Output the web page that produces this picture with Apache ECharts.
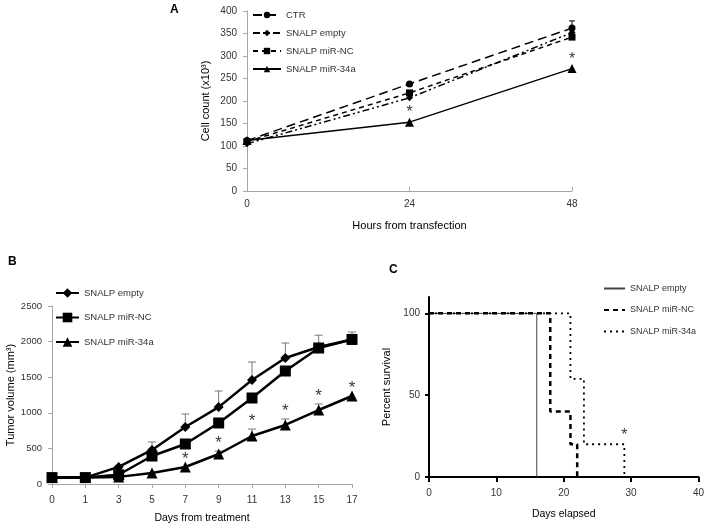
<!DOCTYPE html>
<html>
<head>
<meta charset="utf-8">
<script src="https://cdn.jsdelivr.net/npm/echarts@6/dist/echarts.min.js"></script>
<style>
html,body{margin:0;padding:0;background:#fff;}
#c{width:707px;height:526px;}
</style>
</head>
<body>
<div id="c"></div>
<script>
// ---------- Panel A data ----------
const hoursA = [0, 24, 48];
const ctrA = [112, 238, 362];
const emptyA = [105, 207, 352];
const ncA = [110, 218, 342];
const mir34aA = [112, 153, 272];
const ctrErrA = [0, 0, 16];
const sigA = [0, 1, 1];

// ---------- Panel B data ----------
const daysB = ['0', '1', '3', '5', '7', '9', '11', '13', '15', '17'];
const emptyB = [90, 90, 240, 478, 800, 1080, 1460, 1770, 1925, 2030];
const ncB = [90, 90, 130, 393, 562, 857, 1208, 1587, 1910, 2030];
const mir34aB = [90, 90, 100, 154, 239, 421, 674, 829, 1039, 1236];
const emptyErrB = [0, 0, 0, 112, 183, 226, 253, 210, 165, 105];
const mir34aErrB = [0, 0, 0, 0, 0, 42, 98, 84, 85, 0];
const sigB = [0, 0, 0, 0, 1, 1, 1, 1, 1, 1];

// ---------- Panel C data (Kaplan-Meier events: [day, percent]) ----------
const emptyC = [[0, 100], [16, 0]];
const ncC = [[0, 100], [18, 40], [21, 20], [22, 0]];
const mir34aC = [[0, 100], [21, 60], [23, 20], [29, 0]];
const sigC = [[29, 20]];
const yTicksC = [0, 50, 100];

const FONT = 'Liberation Sans, Arial, sans-serif';
const chart = echarts.init(document.getElementById('c'), null, {renderer: 'canvas'});

function errBars(xs, vals, errs, xi, yi, color, w, capW) {
  const data = [];
  vals.forEach((v, i) => { if (errs[i] > 0) data.push([xs[i], v, v + errs[i]]); });
  return {
    type: 'custom', xAxisIndex: xi, yAxisIndex: yi, silent: true, z: 1,
    data: data,
    renderItem: function (params, api) {
      const p1 = api.coord([api.value(0), api.value(1)]);
      const p2 = api.coord([api.value(0), api.value(2)]);
      return {
        type: 'group',
        children: [
          {type: 'line', shape: {x1: p1[0], y1: p1[1], x2: p2[0], y2: p2[1]}, style: {stroke: color, lineWidth: w}},
          {type: 'line', shape: {x1: p2[0] - capW, y1: p2[1], x2: p2[0] + capW, y2: p2[1]}, style: {stroke: color, lineWidth: w}}
        ]
      };
    }
  };
}

function stars(points, xi, yi, size, dist) {
  return {
    type: 'scatter', xAxisIndex: xi, yAxisIndex: yi, symbol: 'circle', symbolSize: 1, silent: true, z: 5,
    itemStyle: {color: 'rgba(0,0,0,0)'},
    data: points,
    label: {show: true, position: 'top', distance: dist, formatter: '*', fontSize: size, color: '#000', fontFamily: FONT}
  };
}

const starsA = hoursA.map((h, i) => sigA[i] ? [h, mir34aA[i]] : null).filter(Boolean);
const starsB = daysB.map((d, i) => sigB[i] ? [i, mir34aB[i] + mir34aErrB[i]] : null).filter(Boolean);

const labelFmt = n => n.split('|')[0];
const plain = v => String(v);
const axisGray = '#a6a6a6';
const txt = '#333';

const option = {
  backgroundColor: '#fff',
  animation: false,
  textStyle: {fontFamily: FONT},
  title: [
    {text: 'A', left: 170, top: 4, padding: 0, textStyle: {fontSize: 12, fontWeight: 'bold', color: '#000', fontFamily: FONT}},
    {text: 'B', left: 8, top: 256, padding: 0, textStyle: {fontSize: 12, fontWeight: 'bold', color: '#000', fontFamily: FONT}},
    {text: 'C', left: 389, top: 264, padding: 0, textStyle: {fontSize: 12, fontWeight: 'bold', color: '#000', fontFamily: FONT}}
  ],
  grid: [
    {left: 247, top: 11, width: 325, height: 180},
    {left: 52, top: 306, width: 300, height: 178},
    {left: 429, top: 297, width: 271, height: 180}
  ],
  legend: [
    {
      data: ['CTR', 'SNALP empty', 'SNALP miR-NC', 'SNALP miR-34a'],
      orient: 'vertical', left: 252, top: 10, padding: 0, itemWidth: 28, itemHeight: 8, itemGap: 8,
      textStyle: {fontSize: 9.5, color: txt, fontFamily: FONT}, formatter: labelFmt
    },
    {
      data: ['SNALP empty|B', 'SNALP miR-NC|B', 'SNALP miR-34a|B'],
      orient: 'vertical', left: 55, top: 288, padding: 0, itemWidth: 23, itemHeight: 12, itemGap: 14.5,
      textStyle: {fontSize: 9.5, color: txt, fontFamily: FONT}, formatter: labelFmt
    },
    {
      data: ['SNALP empty|C', 'SNALP miR-NC|C', 'SNALP miR-34a|C'],
      orient: 'vertical', left: 603, top: 284, padding: 0, itemWidth: 21, itemHeight: 8, itemGap: 12.5,
      itemStyle: {opacity: 0},
      textStyle: {fontSize: 9, color: txt, fontFamily: FONT}, formatter: labelFmt
    }
  ],
  xAxis: [
    {
      gridIndex: 0, type: 'value', min: 0, max: 48, interval: 24,
      name: 'Hours from transfection', nameLocation: 'middle', nameGap: 29,
      nameTextStyle: {fontSize: 11, color: '#000', fontFamily: FONT},
      axisLine: {lineStyle: {color: axisGray, width: 1}},
      axisTick: {show: true, inside: true, length: 4, lineStyle: {color: axisGray}},
      axisLabel: {fontSize: 10, color: txt, margin: 8, formatter: plain},
      splitLine: {show: false}
    },
    {
      gridIndex: 1, type: 'category', data: daysB, boundaryGap: false,
      name: 'Days from treatment', nameLocation: 'middle', nameGap: 29,
      nameTextStyle: {fontSize: 10.5, color: '#000', fontFamily: FONT},
      axisLine: {lineStyle: {color: axisGray, width: 1}},
      axisTick: {show: true, length: 4, lineStyle: {color: axisGray}},
      axisLabel: {fontSize: 10, color: txt, margin: 11, interval: 0},
      splitLine: {show: false}
    },
    {
      gridIndex: 2, type: 'value', min: 0, max: 40, interval: 10,
      name: 'Days elapsed', nameLocation: 'middle', nameGap: 32,
      nameTextStyle: {fontSize: 10.5, color: '#000', fontFamily: FONT},
      axisLine: {lineStyle: {color: '#000', width: 2}},
      axisTick: {show: true, length: 5, lineStyle: {color: '#000', width: 2}},
      axisLabel: {fontSize: 10, color: txt, margin: 11, formatter: plain},
      splitLine: {show: false}
    }
  ],
  yAxis: [
    {
      gridIndex: 0, type: 'value', min: 0, max: 400, interval: 50,
      name: 'Cell count (x10³)', nameLocation: 'middle', nameGap: 36,
      nameTextStyle: {fontSize: 11, color: '#000', fontFamily: FONT},
      axisLine: {show: true, lineStyle: {color: axisGray, width: 1}},
      axisTick: {show: true, length: 4, lineStyle: {color: axisGray}},
      axisLabel: {fontSize: 10, color: txt, margin: 10, formatter: plain},
      splitLine: {show: false}
    },
    {
      gridIndex: 1, type: 'value', min: 0, max: 2500, interval: 500,
      name: 'Tumor volume (mm³)', nameLocation: 'middle', nameGap: 35,
      nameTextStyle: {fontSize: 11, color: '#000', fontFamily: FONT},
      axisLine: {show: true, lineStyle: {color: axisGray, width: 1}},
      axisTick: {show: true, length: 4, lineStyle: {color: axisGray}},
      axisLabel: {fontSize: 9.5, color: txt, margin: 10, formatter: plain},
      splitLine: {show: false}
    },
    {
      gridIndex: 2, type: 'value', min: 0, max: 110,
      name: 'Percent survival', nameLocation: 'middle', nameGap: 37,
      nameTextStyle: {fontSize: 11, color: '#000', fontFamily: FONT},
      axisLine: {show: true, lineStyle: {color: '#000', width: 2}},
      axisTick: {show: true, length: 4, lineStyle: {color: '#000', width: 2}, customValues: yTicksC},
      axisLabel: {fontSize: 10, color: txt, margin: 9, customValues: yTicksC, formatter: plain},
      splitLine: {show: false}
    }
  ],
  series: [
    // ----- Panel A -----
    errBars(hoursA, ctrA, ctrErrA, 0, 0, '#000', 1, 3),
    {
      name: 'CTR', type: 'line', xAxisIndex: 0, yAxisIndex: 0, data: hoursA.map((h, i) => [h, ctrA[i]]),
      symbol: 'circle', symbolSize: 7, lineStyle: {color: '#000', width: 1.5, type: [9, 5]}, itemStyle: {color: '#000'}
    },
    {
      name: 'SNALP empty', type: 'line', xAxisIndex: 0, yAxisIndex: 0, data: hoursA.map((h, i) => [h, emptyA[i]]),
      symbol: 'diamond', symbolSize: 7, lineStyle: {color: '#000', width: 1.5, type: [7, 3, 2, 3, 2, 3]}, itemStyle: {color: '#000'}
    },
    {
      name: 'SNALP miR-NC', type: 'line', xAxisIndex: 0, yAxisIndex: 0, data: hoursA.map((h, i) => [h, ncA[i]]),
      symbol: 'rect', symbolSize: 7, lineStyle: {color: '#000', width: 1.5, type: [5, 4]}, itemStyle: {color: '#000'}
    },
    {
      name: 'SNALP miR-34a', type: 'line', xAxisIndex: 0, yAxisIndex: 0, data: hoursA.map((h, i) => [h, mir34aA[i]]),
      symbol: 'triangle', symbolSize: 9, lineStyle: {color: '#000', width: 1.5}, itemStyle: {color: '#000'}
    },
    stars(starsA, 0, 0, 16, 1),
    // ----- Panel B -----
    errBars(daysB.map((d, i) => i), emptyB, emptyErrB, 1, 1, '#777', 1, 4),
    errBars(daysB.map((d, i) => i), mir34aB, mir34aErrB, 1, 1, '#777', 1, 4),
    {
      name: 'SNALP empty|B', type: 'line', xAxisIndex: 1, yAxisIndex: 1, data: emptyB,
      symbol: 'diamond', symbolSize: 10, lineStyle: {color: '#000', width: 2.5}, itemStyle: {color: '#000'}
    },
    {
      name: 'SNALP miR-NC|B', type: 'line', xAxisIndex: 1, yAxisIndex: 1, data: ncB,
      symbol: 'rect', symbolSize: 11, lineStyle: {color: '#000', width: 2.5}, itemStyle: {color: '#000'}
    },
    {
      name: 'SNALP miR-34a|B', type: 'line', xAxisIndex: 1, yAxisIndex: 1, data: mir34aB,
      symbol: 'triangle', symbolSize: 11, lineStyle: {color: '#000', width: 2.5}, itemStyle: {color: '#000'}
    },
    stars(starsB, 1, 1, 17, -1),
    // ----- Panel C -----
    {
      name: 'SNALP empty|C', type: 'line', xAxisIndex: 2, yAxisIndex: 2, data: emptyC, step: 'end',
      symbol: 'none', lineStyle: {color: '#444', width: 1}, itemStyle: {color: '#444'}
    },
    {
      name: 'SNALP miR-NC|C', type: 'line', xAxisIndex: 2, yAxisIndex: 2, data: ncC, step: 'end',
      symbol: 'none', lineStyle: {color: '#000', width: 2.5, type: [5, 4]}, itemStyle: {color: '#000'}
    },
    {
      name: 'SNALP miR-34a|C', type: 'line', xAxisIndex: 2, yAxisIndex: 2, data: mir34aC, step: 'end',
      symbol: 'none', lineStyle: {color: '#000', width: 1.8, type: [2, 4]}, itemStyle: {color: '#000'}
    },
    stars(sigC, 2, 2, 16, 0)
  ]
};
chart.setOption(option);
</script>
</body>
</html>
